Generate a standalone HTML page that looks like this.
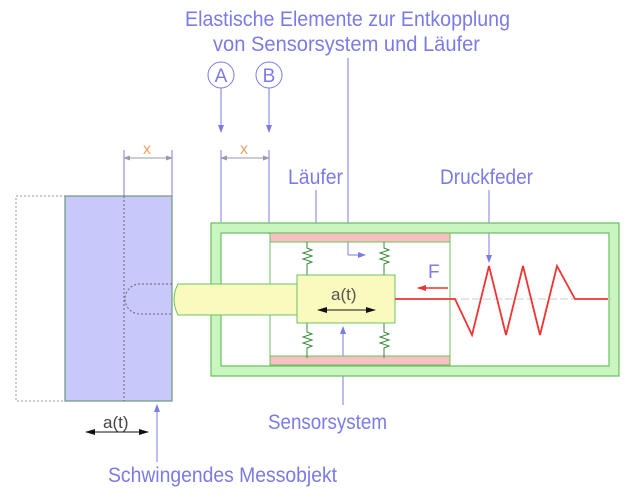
<!DOCTYPE html>
<html><head><style>body{margin:0;background:#fff}svg{display:block}text{font-family:"Liberation Sans Narrow","Liberation Sans",sans-serif}</style></head><body>
<svg width="636" height="503" viewBox="0 0 636 503" xmlns="http://www.w3.org/2000/svg">
<defs>
<marker id="ab" markerWidth="8" markerHeight="6" refX="7" refY="3" orient="auto" markerUnits="userSpaceOnUse"><path d="M0,0L8,3L0,6z" fill="#7b7be8"/></marker>
<marker id="ak" markerWidth="10" markerHeight="6" refX="9" refY="3" orient="auto-start-reverse" markerUnits="userSpaceOnUse"><path d="M0,0L10,3L0,6z" fill="#111"/></marker>
<marker id="ar" markerWidth="9" markerHeight="6" refX="8" refY="3" orient="auto" markerUnits="userSpaceOnUse"><path d="M0,0L9,3L0,6z" fill="#e33"/></marker>
<marker id="ad" markerWidth="7" markerHeight="5" refX="6" refY="2.5" orient="auto-start-reverse" markerUnits="userSpaceOnUse"><path d="M0,0L7,2.5L0,5z" fill="#99a"/></marker>
</defs>
<g fill="#7b7be8" font-size="21">
<text x="185" y="26" textLength="325" lengthAdjust="spacingAndGlyphs">Elastische Elemente zur Entkopplung</text>
<text x="213" y="51" textLength="267" lengthAdjust="spacingAndGlyphs">von Sensorsystem und Läufer</text>
<text x="288" y="184" textLength="55" lengthAdjust="spacingAndGlyphs">Läufer</text>
<text x="440" y="184" textLength="93" lengthAdjust="spacingAndGlyphs">Druckfeder</text>
<text x="268" y="429" textLength="119" lengthAdjust="spacingAndGlyphs">Sensorsystem</text>
<text x="108" y="482" textLength="229" lengthAdjust="spacingAndGlyphs">Schwingendes Messobjekt</text>
<text x="428" y="278" font-size="19">F</text>
<text x="221" y="82" font-size="19" text-anchor="middle">A</text>
<text x="269" y="82" font-size="19" text-anchor="middle">B</text>
</g>
<g stroke="#7b7be8" fill="none" stroke-width="1">
<circle cx="221" cy="75" r="13"/><circle cx="269" cy="75" r="13"/>
<line x1="221" y1="88" x2="221" y2="132" marker-end="url(#ab)"/>
<line x1="269" y1="88" x2="269" y2="132" marker-end="url(#ab)"/>
<line x1="348" y1="58" x2="348" y2="255"/>
<line x1="348" y1="255" x2="365" y2="255" marker-end="url(#ab)"/>
<line x1="316" y1="190" x2="316" y2="230" marker-end="url(#ab)"/>
<line x1="489" y1="190" x2="489" y2="262" marker-end="url(#ab)"/>
<line x1="343" y1="405" x2="343" y2="327" marker-end="url(#ab)"/>
<line x1="157" y1="462" x2="157" y2="405" marker-end="url(#ab)"/>
<line x1="124" y1="150" x2="124" y2="196"/><line x1="172" y1="150" x2="172" y2="196"/>
<line x1="221" y1="150" x2="221" y2="222"/><line x1="269" y1="150" x2="269" y2="234"/>
<line x1="124" y1="158" x2="172" y2="158" marker-start="url(#ad)" marker-end="url(#ad)" stroke="#99a"/>
<line x1="221" y1="158" x2="269" y2="158" marker-start="url(#ad)" marker-end="url(#ad)" stroke="#99a"/>
</g>
<g fill="#f0a060" font-size="16"><text x="143" y="154">x</text><text x="240" y="154">x</text></g>
<rect x="16" y="196" width="49" height="205" fill="none" stroke="#999" stroke-dasharray="2,2"/>
<rect x="65" y="196" width="107" height="205" fill="#c8c8fb" stroke="#6a9a7a" stroke-width="1.2"/>
<line x1="124" y1="196" x2="124" y2="401" stroke="#667" stroke-dasharray="2,2"/>
<path d="M172,284 H140 A15,15 0 0 0 140,314 H172" fill="none" stroke="#667" stroke-dasharray="2,2"/>
<path d="M211,223 H619 V376 H211 Z M221,233 V366 H609 V233 Z" fill="#c8f5c0" fill-rule="evenodd" stroke="#6cc060" stroke-width="1.2"/>
<rect x="211" y="284" width="10" height="31" fill="#c8f5c0"/>
<rect x="270" y="233" width="180" height="9" fill="#f8c0c0" stroke="#6cc060"/>
<rect x="270" y="356" width="180" height="9" fill="#f8c0c0" stroke="#6cc060"/>
<line x1="270" y1="242" x2="270" y2="356" stroke="#6cc060"/>
<line x1="450" y1="242" x2="450" y2="356" stroke="#6cc060"/>
<g stroke="#3a8a3a" fill="none" stroke-width="1">
<path d="M307,242 v6 l5,2 l-9,3 l9,3 l-9,3 l9,3 l-5,2 v13"/>
<path d="M384,242 v6 l5,2 l-9,3 l9,3 l-9,3 l9,3 l-5,2 v13"/>
<path d="M307,323 v9 l5,2 l-9,3 l9,3 l-9,3 l9,3 l-5,2 v10"/>
<path d="M384,323 v9 l5,2 l-9,3 l9,3 l-9,3 l9,3 l-5,2 v10"/>
</g>
<path d="M178,284 H297 V315 H178 Q170,299 178,284 Z" fill="#fafabf" stroke="#6cc060"/>
<rect x="297" y="275" width="98" height="48" fill="#fafabf" stroke="#6cc060"/>
<text x="331" y="300" font-size="17" fill="#555">a(t)</text>
<line x1="318" y1="310" x2="375" y2="310" stroke="#111" marker-start="url(#ak)" marker-end="url(#ak)"/>
<text x="103" y="428" font-size="17" fill="#444">a(t)</text>
<line x1="86" y1="432" x2="148" y2="432" stroke="#111" marker-start="url(#ak)" marker-end="url(#ak)"/>
<line x1="395" y1="299" x2="615" y2="299" stroke="#ccc" stroke-dasharray="8,3"/>
<polyline points="395,299 455,299 472,335 489,266 506,335 523,266 540,335 557,266 575,299 608,299" fill="none" stroke="#e33" stroke-width="1.8"/>
<line x1="448" y1="288" x2="418" y2="288" stroke="#e33" stroke-width="1.5" marker-end="url(#ar)"/>
</svg>
</body></html>
